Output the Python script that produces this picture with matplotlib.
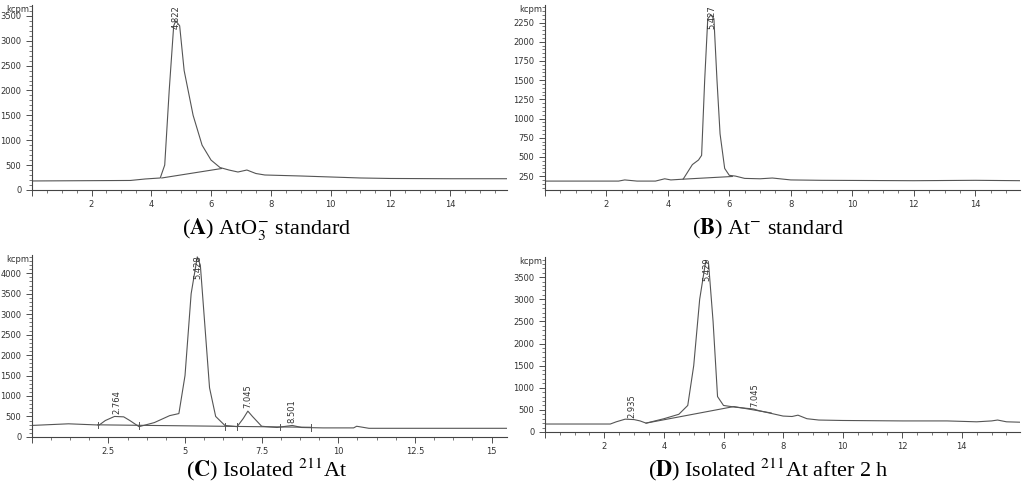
import matplotlib
matplotlib.use("Agg")
import matplotlib.pyplot as plt
from matplotlib.ticker import MultipleLocator

plt.rcParams["mathtext.fontset"] = "stix"

# ---- data ----
A_t = [0, 3.3, 3.8, 4.3, 4.45, 4.6, 4.75, 4.82, 4.95, 5.1, 5.4, 5.7, 6.0, 6.3, 6.6, 6.9, 7.2, 7.5, 7.8, 9, 10, 11, 12, 14, 16]
A_c = [180, 190, 220, 240, 500, 2000, 3300, 3400, 3300, 2400, 1500, 900, 600, 450, 400, 360, 400, 330, 300, 280, 260, 240, 230, 225, 225]
A_base = ([4.35, 6.35], [240, 430])
A_peaks = [(4.822, 3350)]

B_t = [0, 2.4, 2.6, 3, 3.6, 3.9, 4.1, 4.5, 4.8, 5.0, 5.1, 5.2, 5.3, 5.4, 5.5, 5.6, 5.7, 5.85, 6.0, 6.2, 6.5, 7, 7.4, 8, 9, 12, 14, 15.5]
B_c = [185, 185, 200, 185, 185, 215, 200, 210, 400, 460, 520, 1500, 2300, 2350, 2300, 1500, 800, 350, 260, 250, 220, 215, 225, 200, 195, 190, 195, 190]
B_base = ([4.5, 6.1], [210, 245])
B_peaks = [(5.427, 2270)]

C_t = [0, 1.2, 2.2, 2.4, 2.7, 3.0, 3.2, 3.5, 4.0, 4.5, 4.8, 5.0, 5.2, 5.4, 5.5, 5.65, 5.8, 6.0, 6.3, 6.7, 6.9, 7.05, 7.2, 7.5, 8.0, 8.3, 8.5, 8.8, 9.5, 10.5, 10.6, 11, 15.5]
C_c = [280, 320, 290, 400, 500, 490, 400, 250, 350, 520, 570, 1500, 3500, 4400, 4200, 2700, 1200, 500, 280, 250, 450, 630, 500, 260, 230, 260, 280, 230, 220, 220, 260, 210, 210]
C_base = ([2.15, 9.1], [295, 235])
C_ticks = [2.15, 3.5, 6.3, 6.7, 8.1, 9.1]
C_peaks = [(2.764, 560), (5.428, 4350), (7.045, 700), (8.501, 330)]

D_t = [0, 2.2, 2.4, 2.7, 3.0, 3.2, 3.4, 4.0, 4.5, 4.8, 5.0, 5.2, 5.4, 5.5, 5.65, 5.8, 6.0, 6.4, 7.0, 7.2, 7.6, 8.0, 8.3, 8.5, 8.8, 9.2, 10, 12, 13.5, 14.5, 15, 15.2, 15.5, 16]
D_c = [180, 180, 230, 290, 280, 250, 200, 300, 400, 600, 1500, 3000, 3850, 3800, 2500, 800, 600, 560, 520, 480, 420, 360, 350, 380, 300, 270, 260, 250, 250, 230, 250, 270, 230, 220]
D_base = ([3.4, 6.35, 7.6], [200, 575, 430])
D_peaks = [(2.935, 320), (5.429, 3800), (7.045, 560)]

panels = [
    # t, c, base, peaks, xlim, ylim, xmajor, ymajor, yminor, caption, rect, caption pos
    (A_t, A_c, A_base, A_peaks, (0, 15.9), (0, 3720), 2, 500, 100,
     r"($\mathbf{A}$) AtO$_3^{-}$ standard", [0.031, 0.614, 0.464, 0.376], (0.26, 0.535)),
    (B_t, B_c, B_base, B_peaks, (0, 15.45), (70, 2480), 2, 250, 50,
     r"($\mathbf{B}$) At$^{-}$ standard", [0.532, 0.614, 0.464, 0.376], (0.75, 0.535)),
    (C_t, C_c, C_base, C_peaks, (0, 15.5), (0, 4450), 2.5, 500, 100,
     r"($\mathbf{C}$) Isolated $^{211}$At", [0.031, 0.112, 0.464, 0.370], (0.26, 0.045)),
    (D_t, D_c, D_base, D_peaks, (0, 15.95), (0, 3950), 2, 500, 100,
     r"($\mathbf{D}$) Isolated $^{211}$At after 2 h", [0.532, 0.122, 0.464, 0.355], (0.75, 0.045)),
]

fig = plt.figure(figsize=(10.24, 4.92), dpi=100)
lc = "#555555"

for i, (t, c, base, peaks, xl, yl, xmj, ymj, ymn, cap, rect, cpos) in enumerate(panels):
    ax = fig.add_axes(rect)
    ax.plot(t, c, color=lc, lw=0.8)
    ax.plot(base[0], base[1], color=lc, lw=0.8)
    if i == 2:
        for xt in C_ticks:
            yb = C_base[1][0] + (xt - C_base[0][0]) * (C_base[1][1] - C_base[1][0]) / (C_base[0][1] - C_base[0][0])
            ax.plot([xt, xt], [yb - 80, yb + 80], color=lc, lw=0.7)
    top = max(p[1] for p in peaks)
    for pt, py in peaks:
        if py == top:
            # main peak label sits at the top of the plot, down to the apex
            ax.text(pt, yl[1], f"{pt:.3f}", rotation=90, ha="center", va="top",
                    fontsize=6, color="#333333")
        else:
            ax.text(pt, py, f"{pt:.3f}", rotation=90, ha="center", va="bottom",
                    fontsize=6, color="#333333")
    ax.set_xlim(*xl)
    ax.set_ylim(*yl)
    ax.xaxis.set_major_locator(MultipleLocator(xmj))
    ax.xaxis.set_minor_locator(MultipleLocator(xmj / 4))
    ax.yaxis.set_major_locator(MultipleLocator(ymj))
    ax.yaxis.set_minor_locator(MultipleLocator(ymn))
    ax.xaxis.set_major_formatter(lambda v, p: f"{v:g}" if v > 0 else "")
    for s in ("top", "right"):
        ax.spines[s].set_visible(False)
    for s in ("left", "bottom"):
        ax.spines[s].set_color("#444444")
        ax.spines[s].set_linewidth(0.8)
    ax.tick_params(labelsize=6, colors="#333333", length=4, width=0.6)
    ax.tick_params(which="minor", length=2, width=0.5, colors="#444444")
    ax.text(-0.005, 1.0, "kcpm", transform=ax.transAxes, ha="right", va="top",
            fontsize=6, color="#333333")
    fig.text(cpos[0], cpos[1], cap, ha="center", va="center", fontsize=16,
             family="Liberation Serif")

fig.savefig("out.png", dpi=100)
